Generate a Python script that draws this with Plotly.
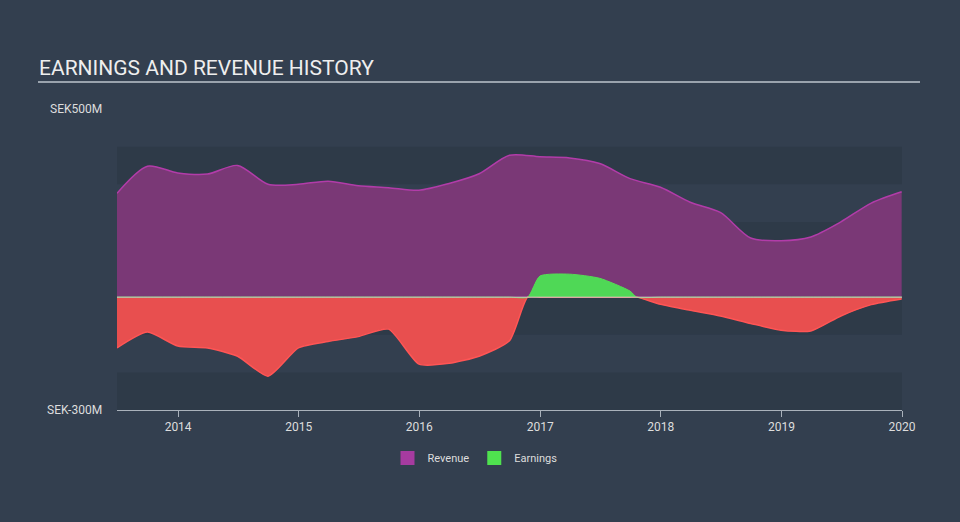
import plotly.graph_objects as go

dates = [
    "2013-06-30", "2013-09-30", "2013-12-31", "2014-03-31", "2014-06-30", "2014-09-30",
    "2014-12-31", "2015-03-31", "2015-06-30", "2015-09-30", "2015-12-31", "2016-03-31",
    "2016-06-30", "2016-09-30", "2016-12-31", "2017-03-31", "2017-06-30", "2017-09-30",
    "2017-12-31", "2018-03-31", "2018-06-30", "2018-09-30", "2018-12-31", "2019-03-31",
    "2019-06-30", "2019-09-30", "2019-12-31",
]
revenue = [276, 348, 330, 327, 350, 300, 300, 308, 296, 291, 284, 302, 328, 377, 373,
           370, 355, 315, 292, 252, 225, 157, 150, 160, 200, 250, 280]

earn_dates = [
    "2013-06-30", "2013-09-30", "2013-12-31", "2014-03-31", "2014-06-30", "2014-09-30",
    "2014-12-31", "2015-03-31", "2015-06-30", "2015-09-30", "2015-12-31", "2016-03-31",
    "2016-06-30", "2016-09-30", "2016-11-24", "2016-12-31", "2017-03-31", "2017-06-30",
    "2017-09-30", "2017-10-20", "2017-12-31", "2018-03-31", "2018-06-30", "2018-09-30",
    "2018-12-31", "2019-03-31", "2019-06-30", "2019-09-30", "2019-12-31",
]
earnings = [-135, -93, -130, -135, -157, -210, -135, -118, -105, -85, -178, -176, -157,
            -116, 0, 56, 61, 50, 16, 0, -19, -35, -50, -70, -88, -90, -50, -20, -5]

tick_dates = ["2014-01-01", "2015-01-01", "2016-01-01", "2017-01-01",
              "2018-01-01", "2019-01-01", "2020-01-01"]
tick_labels = ["2014", "2015", "2016", "2017", "2018", "2019", "2020"]
y_labels = ["SEK500M", "SEK-300M"]
y_label_vals = [500, -300]

BG = "#333f4f"
BAND = "#2e3a48"

earn_neg = [min(v, 0) for v in earnings]
earn_pos = [max(v, 0) for v in earnings]

fig = go.Figure()
fig.add_trace(go.Scatter(
    x=dates, y=revenue, mode="lines", fill="tozeroy",
    line=dict(color="#b23ca9", width=1.5, shape="spline", smoothing=0.8),
    fillcolor="#7a3876", showlegend=False, hoverinfo="skip"))
fig.add_trace(go.Scatter(
    x=earn_dates, y=earn_neg, mode="lines", fill="tozeroy",
    line=dict(color="#ff5555", width=1.5, shape="spline", smoothing=0.6),
    fillcolor="#e84f4f", showlegend=False, hoverinfo="skip"))
fig.add_trace(go.Scatter(
    x=earn_dates, y=earn_pos, mode="lines", fill="tozeroy",
    line=dict(color="#55dd55", width=1, shape="spline", smoothing=0.6),
    fillcolor="#4fd856", showlegend=False, hoverinfo="skip"))

# legend entries
fig.add_trace(go.Scatter(x=[None], y=[None], mode="markers", name="Revenue",
                         marker=dict(symbol="square", size=14, color="#a63ba0")))
fig.add_trace(go.Scatter(x=[None], y=[None], mode="markers", name="Earnings",
                         marker=dict(symbol="square", size=14, color="#4fe24f")))

shapes = []
for i, lo in enumerate(range(-300, 400, 100)):
    if i % 2 == 0:
        shapes.append(dict(type="rect", xref="paper", yref="y", x0=0, x1=1,
                           y0=lo, y1=lo + 100, fillcolor=BAND, line=dict(width=0),
                           layer="below"))
shapes.append(dict(type="line", xref="paper", yref="y", x0=0, x1=1, y0=0, y1=0,
                   line=dict(color="rgba(230,200,210,0.6)", width=1.5), layer="above"))
shapes.append(dict(type="line", xref="paper", yref="paper",
                   x0=(38 - 117) / 785, x1=(920 - 117) / 785,
                   y0=(410 - 82) / 301, y1=(410 - 82) / 301,
                   line=dict(color="#9aa3ad", width=2)))

annotations = [dict(text="EARNINGS AND REVENUE HISTORY", xref="paper", yref="paper",
                    x=(37 - 117) / 785, y=(410 - 68) / 301, xanchor="left", yanchor="middle",
                    showarrow=False, font=dict(size=21, color="#eeeeee", family="Roboto"))]
for lbl, v in zip(y_labels, y_label_vals):
    annotations.append(dict(text=lbl, xref="paper", yref="y", x=(104 - 117) / 785, y=v,
                            xanchor="right", yanchor="middle", showarrow=False,
                            font=dict(size=12, color="#dddddd", family="Roboto")))

fig.update_layout(
    width=960, height=522,
    margin=dict(l=117, r=58, t=109, b=112),
    paper_bgcolor=BG, plot_bgcolor=BG,
    shapes=shapes, annotations=annotations,
    font=dict(family="Roboto", color="#dddddd", size=12),
    legend=dict(orientation="h", x=(475 - 117) / 785, y=-(458 - 410) / 301,
                xanchor="center", yanchor="middle", font=dict(size=11, color="#dddddd"),
                bgcolor="rgba(0,0,0,0)", itemwidth=30, tracegroupgap=0),
    xaxis=dict(type="date", range=["2013-06-30", "2020-01-01"], showgrid=False,
               zeroline=False, showline=True, linecolor="#aab2bb", linewidth=1,
               ticks="outside", ticklen=6, tickcolor="#aab2bb",
               tickvals=tick_dates, ticktext=tick_labels,
               tickfont=dict(size=12, color="#dddddd")),
    yaxis=dict(range=[-300, 500], showgrid=False, zeroline=False, showticklabels=False,
               showline=False),
)

fig.write_html("out.html")
